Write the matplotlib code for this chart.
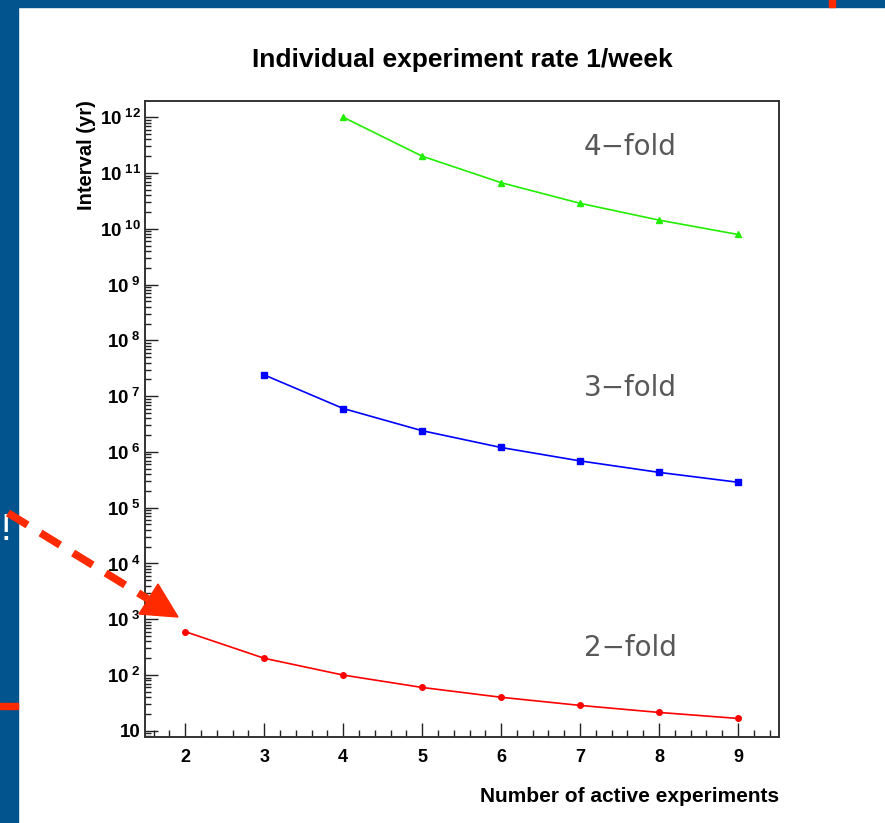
import matplotlib
matplotlib.use("Agg")
import matplotlib.pyplot as plt
from matplotlib.patches import Rectangle, Polygon
from matplotlib.lines import Line2D
from matplotlib.ticker import FixedLocator, MultipleLocator, LogLocator, NullFormatter

plt.rcParams['mathtext.fontset'] = 'custom'
plt.rcParams['mathtext.rm'] = 'Liberation Sans:bold'
plt.rcParams['mathtext.bf'] = 'Liberation Sans:bold'
plt.rcParams['mathtext.it'] = 'Liberation Sans:bold'

# ---------------- data ----------------
x_twofold = [2, 3, 4, 5, 6, 7, 8, 9]
y_twofold = [600, 200, 100, 60, 40, 28.6, 21.4, 16.7]

x_threefold = [3, 4, 5, 6, 7, 8, 9]
y_threefold = [2.4e7, 6.0e6, 2.4e6, 1.2e6, 6.9e5, 4.3e5, 2.86e5]

x_fourfold = [4, 5, 6, 7, 8, 9]
y_fourfold = [1.0e12, 2.0e11, 6.7e10, 2.86e10, 1.43e10, 7.9e9]

xtick_values = [2, 3, 4, 5, 6, 7, 8, 9]
xtick_labels = ['2', '3', '4', '5', '6', '7', '8', '9']
ytick_values = [1e1, 1e2, 1e3, 1e4, 1e5, 1e6, 1e7, 1e8, 1e9, 1e10, 1e11, 1e12]
ytick_labels = ['10', r'$10^{\ 2}$', r'$10^{\ 3}$', r'$10^{\ 4}$', r'$10^{\ 5}$', r'$10^{\ 6}$',
                r'$10^{\ 7}$', r'$10^{\ 8}$', r'$10^{\ 9}$', r'$10^{\ 10}$', r'$10^{\ 11}$', r'$10^{\ 12}$']

title_text = 'Individual experiment rate 1/week'
xlabel_text = 'Number of active experiments'
ylabel_text = 'Interval (yr)'
fold_labels = ['4\u2212fold', '3\u2212fold', '2\u2212fold']

# ---------------- figure ----------------
W, H = 885, 823
fig = plt.figure(figsize=(W / 100, H / 100), dpi=100)
fig.patch.set_facecolor('white')

def fx(px):
    return px / W

def fy(py):
    return 1 - py / H

BLUE = '#02548f'
RED = '#ff2a00'
# slide decoration
fig.patches.append(Rectangle((0, 0), fx(17.5), 1, transform=fig.transFigure, color=BLUE, zorder=0))
fig.patches.append(Rectangle((0, fy(7)), 1, 7 / H, transform=fig.transFigure, color=BLUE, zorder=0))
fig.patches.append(Rectangle((fx(829), fy(7)), 6 / W, 7 / H, transform=fig.transFigure, color=RED, zorder=1))
fig.patches.append(Rectangle((0, fy(709)), fx(17.5), 6 / H, transform=fig.transFigure, color=RED, zorder=1))
fig.text(fx(6), fy(530), '!', color='white', fontsize=26, ha='center', va='center',
         family='DejaVu Sans')

ax = fig.add_axes([fx(145), fy(737), fx(779) - fx(145), fy(101) - fy(737)])
ax.set_yscale('log')
ax.set_xlim(1.49, 9.52)
ax.set_ylim(10 ** 0.89, 10 ** 12.29)

ax.plot(x_twofold, y_twofold, color='#ff0000', lw=1.2, marker='o', ms=4, zorder=3)
ax.plot(x_threefold, y_threefold, color='#0000ff', lw=1.2, marker='s', ms=4, zorder=3)
ax.plot(x_fourfold, y_fourfold, color='#22ee00', lw=1.2, marker='^', ms=4, zorder=3)

ax.xaxis.set_major_locator(FixedLocator(xtick_values))
ax.set_xticklabels(xtick_labels)
ax.xaxis.set_minor_locator(MultipleLocator(0.2))
ax.yaxis.set_major_locator(FixedLocator(ytick_values))
ax.set_yticklabels(ytick_labels)
ax.yaxis.set_minor_locator(LogLocator(base=10, subs=[2, 3, 4, 5, 6, 7, 8, 9], numticks=50))
ax.yaxis.set_minor_formatter(NullFormatter())

ax.tick_params(axis='both', which='both', direction='in', color='#222222', width=1.0)
ax.tick_params(axis='x', which='major', length=10, pad=9, labelsize=13)
ax.tick_params(axis='x', which='minor', length=5)
ax.tick_params(axis='y', which='major', length=9, pad=3, labelsize=13.5)
ax.tick_params(axis='y', which='minor', length=4.5)
for lab in ax.get_xticklabels():
    lab.set_fontfamily('Liberation Sans')
    lab.set_fontweight('bold')
for lab in ax.get_yticklabels():
    lab.set_fontfamily('Liberation Sans')
    lab.set_fontweight('bold')

for s in ax.spines.values():
    s.set_color('#333333')
    s.set_linewidth(1.4)

# fold labels
for lbl, ypix in zip(fold_labels, [147, 388, 648]):
    ax.text((630 - 145) / 634, (737 - ypix) / 636, lbl, transform=ax.transAxes,
            ha='center', va='center', fontsize=20, color='#585858', family='DejaVu Sans')

fig.text(fx(462), fy(60), title_text, ha='center', va='center', fontsize=19,
         fontweight='bold', family='Liberation Sans')
fig.text(fx(779), fy(797), xlabel_text, ha='right', va='center', fontsize=15,
         fontweight='bold', family='Liberation Sans')
fig.text(fx(87), fy(100), ylabel_text, ha='center', va='top', rotation=90, fontsize=14.5,
         fontweight='bold', family='Liberation Sans')

# red dashed arrow
line = Line2D([fx(8), fx(148)], [fy(513), fy(599)], transform=fig.transFigure,
              color=RED, lw=5.5, linestyle=(0, (3, 2)), solid_capstyle='butt', zorder=5)
fig.lines.append(line)
head = Polygon([(fx(178), fy(617)), (fx(139), fy(614)), (fx(158), fy(584))],
               closed=True, transform=fig.transFigure, color=RED, zorder=5)
fig.patches.append(head)

fig.savefig('out.png', dpi=100, facecolor=fig.get_facecolor())
